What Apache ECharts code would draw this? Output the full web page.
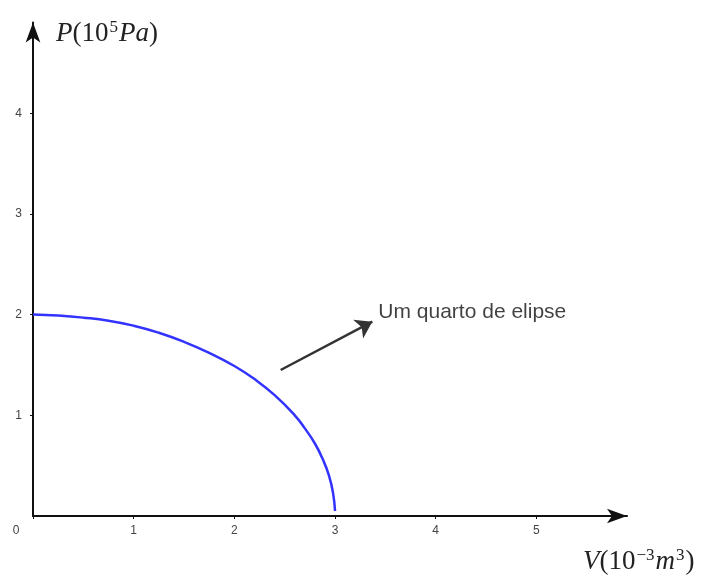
<!DOCTYPE html>
<html>
<head>
<meta charset="utf-8">
<script src="https://cdn.jsdelivr.net/npm/echarts@6/dist/echarts.min.js"></script>
<style>html,body{margin:0;padding:0;background:#fff}#c{width:705px;height:577px}</style>
</head>
<body>
<div id="c"></div>
<script>
// Quarter ellipse: V (10^-3 m^3) and P (10^5 Pa)
var ellipseV = [0, 0.25, 0.5, 0.75, 1.0, 1.25, 1.5, 1.75, 2.0, 2.2, 2.4, 2.6, 2.7, 2.8, 2.88, 2.94, 2.98, 3.0];
var ellipseP = [2.0, 1.99, 1.97, 1.94, 1.89, 1.82, 1.73, 1.62, 1.49, 1.36, 1.2, 1.0, 0.87, 0.72, 0.56, 0.40, 0.23, 0.05];
var xTicks = [0, 1, 2, 3, 4, 5];
var yTicks = [1, 2, 3, 4];
var annotationText = 'Um quarto de elipse';
var arrowFrom = [2.46, 1.45];
var arrowTo = [3.37, 1.93];
var textAt = [3.43, 2.02];

var chart = echarts.init(document.getElementById('c'), null, {renderer: 'canvas'});
var lineData = ellipseV.map(function (v, i) { return [v, ellipseP[i]]; });
var axisCol = '#111';
var sans = 'Liberation Sans, Arial, sans-serif';
var serif = 'Liberation Serif, Times New Roman, serif';
var labelStyle = {fontFamily: sans, fontSize: 12, color: '#444'};
var titleRich = {
  i: {fontFamily: serif, fontStyle: 'italic', fontSize: 27, fill: '#222'},
  r: {fontFamily: serif, fontSize: 27, fill: '#222'},
  s: {fontFamily: serif, fontSize: 17, fill: '#222', verticalAlign: 'top', padding: [0, 1, 12, 1]}
};

chart.setOption({
  animation: false,
  backgroundColor: '#fff',
  grid: {left: 33, right: 78, top: 22.6, bottom: 61, containLabel: false},
  xAxis: {
    type: 'value', min: 0, max: 5.9, interval: 1,
    splitLine: {show: false},
    axisLine: {lineStyle: {color: axisCol, width: 2}, symbol: ['none', 'arrow'], symbolSize: [11, 20]},
    axisTick: {show: true, length: 3, lineStyle: {color: axisCol, width: 1}, customValues: xTicks},
    axisLabel: Object.assign({
      customValues: xTicks, margin: 9,
      formatter: function (v) { return v === 0 ? '{z|0}' : String(v); },
      rich: {z: {fontFamily: sans, fontSize: 12, color: '#444', padding: [0, 34, 0, 0]}}
    }, labelStyle)
  },
  yAxis: {
    type: 'value', min: 0, max: 4.9, interval: 1,
    splitLine: {show: false},
    axisLine: {lineStyle: {color: axisCol, width: 2}, symbol: ['none', 'arrow'], symbolSize: [11, 20]},
    axisTick: {show: true, length: 3, lineStyle: {color: axisCol, width: 1}, customValues: yTicks},
    axisLabel: Object.assign({customValues: yTicks, margin: 11}, labelStyle)
  },
  graphic: [
    {type: 'text', left: 56, top: 19, style: {
      text: '{i|P}{r|(10}{s|5}{i|Pa}{r|)}', rich: titleRich
    }},
    {type: 'text', left: 583, top: 547, style: {
      text: '{i|V}{r|(10}{s|−3}{i|m}{s|3}{r|)}', rich: titleRich
    }}
  ],
  series: [
    {
      type: 'line', data: lineData, smooth: true, showSymbol: false,
      lineStyle: {color: '#3333ff', width: 2.5}, z: 3
    },
    {
      type: 'lines', coordinateSystem: 'cartesian2d', silent: true,
      symbol: ['none', 'arrow'], symbolSize: [10, 16],
      lineStyle: {color: '#333', width: 2.5, opacity: 1},
      data: [{coords: [arrowFrom, arrowTo]}], z: 4
    },
    {
      type: 'scatter', symbolSize: 0, silent: true,
      data: [textAt],
      label: {show: true, position: 'right', distance: 0, formatter: annotationText,
        fontFamily: sans, fontSize: 21, color: '#111'}
    }
  ]
});
</script>
</body>
</html>
